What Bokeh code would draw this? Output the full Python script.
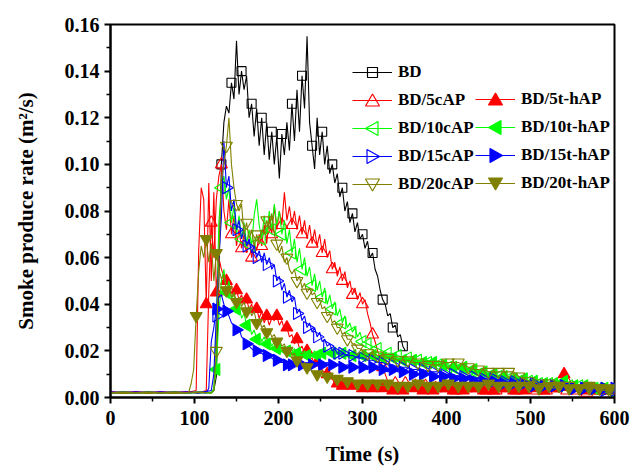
import math
from bokeh.plotting import figure
from bokeh.models import (Range1d, Legend, LegendItem, FixedTicker, NumeralTickFormatter,
                          PolyAnnotation)
from bokeh.embed import file_html
from bokeh.resources import INLINE

# ---------------- data ----------------
# each series: baseline values (every 15 s from 0), start time of the active part,
# active values (every 3 s), tail values (every 6 s after the active part)
labels = ["BD", "BD/5cAP", "BD/5t-hAP", "BD/10cAP", "BD/10t-hAP",
          "BD/15cAP", "BD/15t-hAP", "BD/20cAP", "BD/20t-hAP"]

bd_base = [0.0022, 0.0018, 0.0022, 0.0019, 0.0022, 0.0018, 0.0022, 0.0019, 0.0022]
bd_start = 123
bd_active = [0.003, 0.009, 0.05, 0.1, 0.118, 0.125, 0.122, 0.135, 0.128, 0.153,
             0.13, 0.14, 0.132, 0.138, 0.12, 0.126, 0.112, 0.124, 0.108, 0.12,
             0.104, 0.118, 0.102, 0.114, 0.1, 0.112, 0.094, 0.113, 0.104, 0.118,
             0.106, 0.126, 0.11, 0.132, 0.114, 0.138, 0.124, 0.155, 0.118, 0.108,
             0.098, 0.12, 0.104, 0.114, 0.1, 0.108, 0.096, 0.1, 0.092, 0.096,
             0.086, 0.09, 0.08, 0.084, 0.075, 0.079, 0.071, 0.075, 0.068, 0.07,
             0.064, 0.067, 0.06, 0.062, 0.055, 0.052, 0.046, 0.042, 0.04, 0.035,
             0.036, 0.03, 0.031, 0.026, 0.027, 0.022, 0.02]
bd_tail = []

c5_base = [0.0025, 0.002, 0.0025, 0.002, 0.0025, 0.002, 0.0025, 0.002]
c5_start = 114
c5_active = [0.003, 0.045, 0.075, 0.06, 0.085, 0.095, 0.1, 0.08, 0.072, 0.085,
             0.07, 0.078, 0.065, 0.072, 0.064, 0.07, 0.062, 0.068, 0.06, 0.066,
             0.063, 0.07, 0.065, 0.074, 0.066, 0.078, 0.07, 0.082, 0.072, 0.08,
             0.074, 0.088, 0.076, 0.082, 0.074, 0.08, 0.072, 0.078, 0.07, 0.076,
             0.068, 0.074, 0.066, 0.072, 0.065, 0.07, 0.062, 0.068, 0.06, 0.063,
             0.055, 0.058, 0.052, 0.056, 0.05, 0.054, 0.047, 0.05, 0.044, 0.047,
             0.042, 0.045, 0.04, 0.042, 0.036, 0.032, 0.027, 0.024, 0.02, 0.017,
             0.013, 0.01, 0.007, 0.006]
c5_tail = [0.006, 0.005, 0.006, 0.005, 0.005, 0.004, 0.005, 0.004, 0.004, 0.005,
           0.004, 0.004, 0.003, 0.004, 0.004, 0.003, 0.004, 0.003, 0.003, 0.004,
           0.003, 0.003, 0.004, 0.003, 0.003, 0.003, 0.004, 0.003, 0.003, 0.003,
           0.003, 0.003, 0.004, 0.003, 0.003, 0.003, 0.003, 0.003, 0.002, 0.003,
           0.003, 0.002, 0.003, 0.002, 0.003]

t5_base = [0.002, 0.0025, 0.002, 0.0025, 0.002, 0.0025, 0.002]
t5_start = 102
t5_active = [0.003, 0.063, 0.09, 0.085, 0.04, 0.092, 0.05, 0.088, 0.045, 0.06,
             0.055, 0.052, 0.05, 0.047, 0.048, 0.043, 0.046, 0.042, 0.044, 0.04,
             0.042, 0.038, 0.04, 0.036, 0.038, 0.034, 0.037, 0.032, 0.035, 0.031,
             0.034, 0.033, 0.035, 0.031, 0.033, 0.029, 0.03, 0.026, 0.027, 0.023,
             0.025, 0.021, 0.022, 0.019, 0.02, 0.016, 0.017, 0.014, 0.015, 0.012,
             0.012, 0.01, 0.01, 0.008, 0.008, 0.006, 0.006]
t5_tail = [0.005, 0.004, 0.005, 0.004, 0.004, 0.003, 0.004, 0.003, 0.004, 0.003,
           0.003, 0.004, 0.003, 0.003, 0.004, 0.003, 0.003, 0.004, 0.003, 0.003,
           0.004, 0.003, 0.003, 0.004, 0.003, 0.003, 0.004, 0.003, 0.003, 0.004,
           0.003, 0.003, 0.004, 0.003, 0.003, 0.004, 0.003, 0.003, 0.004, 0.003,
           0.003, 0.003, 0.004, 0.006, 0.01, 0.008, 0.004, 0.003, 0.003, 0.003,
           0.003, 0.002, 0.003, 0.002, 0.003]

c10_base = [0.0018, 0.0022, 0.0018, 0.0022, 0.0018, 0.0022, 0.0018, 0.0022, 0.0018]
c10_start = 123
c10_active = [0.003, 0.03, 0.075, 0.09, 0.095, 0.085, 0.09, 0.075, 0.082, 0.07,
              0.078, 0.068, 0.075, 0.066, 0.072, 0.065, 0.078, 0.085, 0.074, 0.068,
              0.078, 0.07, 0.08, 0.072, 0.083, 0.074, 0.08, 0.07, 0.076, 0.066,
              0.072, 0.062, 0.068, 0.058, 0.064, 0.055, 0.06, 0.052, 0.056, 0.048,
              0.053, 0.046, 0.05, 0.043, 0.047, 0.04, 0.044, 0.038, 0.041, 0.035,
              0.038, 0.032, 0.035, 0.03, 0.032, 0.028, 0.03, 0.026, 0.028, 0.024]
c10_tail = [0.023, 0.022, 0.021, 0.02, 0.019, 0.019, 0.018, 0.017, 0.017, 0.016,
            0.016, 0.015, 0.015, 0.014, 0.014, 0.013, 0.013, 0.012, 0.012, 0.011,
            0.011, 0.011, 0.01, 0.01, 0.009, 0.009, 0.009, 0.008, 0.008, 0.008,
            0.007, 0.007, 0.007, 0.006, 0.006, 0.006, 0.006, 0.005, 0.005, 0.006,
            0.005, 0.005, 0.005, 0.004, 0.004, 0.004, 0.004, 0.004, 0.003, 0.004]

t10_base = [0.002, 0.0024, 0.002, 0.0024, 0.002, 0.0024, 0.002, 0.0024, 0.002]
t10_start = 123
t10_active = [0.004, 0.012, 0.035, 0.05, 0.055, 0.045, 0.05, 0.042, 0.045, 0.038,
              0.04, 0.034, 0.036, 0.031, 0.033, 0.027, 0.029, 0.025, 0.027, 0.024,
              0.026, 0.023, 0.025, 0.022, 0.024, 0.021, 0.023, 0.021, 0.022, 0.02,
              0.022, 0.02, 0.021, 0.019, 0.021, 0.019, 0.02, 0.018, 0.02, 0.018,
              0.02, 0.018]
t10_tail = [0.019, 0.02, 0.019, 0.02, 0.019, 0.02, 0.018, 0.019, 0.018, 0.019,
            0.018, 0.018, 0.017, 0.018, 0.017, 0.017, 0.016, 0.017, 0.016, 0.016,
            0.015, 0.016, 0.015, 0.015, 0.014, 0.014, 0.013, 0.014, 0.013, 0.012,
            0.012, 0.011, 0.011, 0.01, 0.01, 0.009, 0.009, 0.009, 0.008, 0.008,
            0.008, 0.007, 0.007, 0.007, 0.006, 0.006, 0.006, 0.006, 0.007, 0.006,
            0.005, 0.005, 0.005, 0.005, 0.004, 0.004, 0.004, 0.004, 0.004]

c15_base = [0.0024, 0.002, 0.0024, 0.002, 0.0024, 0.002, 0.0024, 0.002]
c15_start = 120
c15_active = [0.003, 0.01, 0.035, 0.06, 0.077, 0.11, 0.09, 0.095, 0.08, 0.085,
              0.072, 0.076, 0.068, 0.072, 0.065, 0.068, 0.062, 0.065, 0.06, 0.063,
              0.058, 0.062, 0.057, 0.06, 0.055, 0.057, 0.05, 0.052, 0.046, 0.049,
              0.043, 0.046, 0.041, 0.043, 0.036, 0.038, 0.033, 0.035, 0.03, 0.032,
              0.028, 0.03, 0.026, 0.028, 0.024, 0.025, 0.022, 0.023, 0.02, 0.021,
              0.019]
c15_tail = [0.019, 0.018, 0.018, 0.017, 0.017, 0.016, 0.016, 0.015, 0.015, 0.014,
            0.014, 0.013, 0.013, 0.013, 0.012, 0.012, 0.012, 0.011, 0.011, 0.011,
            0.01, 0.01, 0.01, 0.009, 0.009, 0.009, 0.009, 0.008, 0.008, 0.008,
            0.008, 0.007, 0.007, 0.007, 0.007, 0.006, 0.006, 0.006, 0.006, 0.006,
            0.005, 0.005, 0.005, 0.005, 0.005, 0.005, 0.004, 0.004, 0.004, 0.004,
            0.004, 0.004, 0.003, 0.004, 0.003]

t15_base = [0.002, 0.0023, 0.002, 0.0023, 0.002, 0.0023, 0.002, 0.0023]
t15_start = 114
t15_active = [0.002, 0.004, 0.024, 0.03, 0.038, 0.043, 0.044, 0.04, 0.037, 0.035,
              0.032, 0.031, 0.029, 0.03, 0.026, 0.025, 0.023, 0.022, 0.021, 0.02,
              0.02, 0.019, 0.019, 0.018, 0.018, 0.017, 0.017, 0.016, 0.016, 0.015,
              0.015, 0.015, 0.014]
t15_tail = [0.014, 0.015, 0.014, 0.015, 0.014, 0.015, 0.014, 0.015, 0.014, 0.014,
            0.013, 0.014, 0.013, 0.013, 0.013, 0.012, 0.013, 0.012, 0.012, 0.011,
            0.012, 0.011, 0.011, 0.011, 0.01, 0.01, 0.01, 0.01, 0.009, 0.009,
            0.009, 0.009, 0.008, 0.008, 0.008, 0.008, 0.007, 0.007, 0.007, 0.007,
            0.007, 0.006, 0.006, 0.006, 0.006, 0.006, 0.006, 0.005, 0.005, 0.005,
            0.005, 0.005, 0.005, 0.005, 0.005, 0.004, 0.004, 0.004, 0.004, 0.004,
            0.004, 0.004, 0.004, 0.003, 0.004]

c20_base = [0.0019, 0.0023, 0.0019, 0.0023, 0.0019, 0.0023, 0.0019, 0.0023, 0.0019]
c20_start = 123
c20_active = [0.003, 0.02, 0.06, 0.093, 0.1, 0.108, 0.12, 0.1, 0.09, 0.083,
              0.08, 0.083, 0.07, 0.075, 0.068, 0.072, 0.065, 0.07, 0.066, 0.072,
              0.07, 0.076, 0.072, 0.079, 0.07, 0.066, 0.062, 0.065, 0.058, 0.06,
              0.055, 0.053, 0.055, 0.05, 0.052, 0.047, 0.049, 0.045, 0.047, 0.044,
              0.045, 0.041, 0.042, 0.038, 0.039, 0.035, 0.036, 0.032, 0.033, 0.03,
              0.03, 0.027, 0.028, 0.025, 0.025, 0.023, 0.023, 0.021, 0.021, 0.02]
c20_tail = [0.019, 0.019, 0.018, 0.018, 0.017, 0.017, 0.016, 0.016, 0.016, 0.015,
            0.015, 0.015, 0.014, 0.014, 0.014, 0.015, 0.015, 0.015, 0.015, 0.014,
            0.013, 0.012, 0.012, 0.012, 0.011, 0.011, 0.011, 0.011, 0.011, 0.011,
            0.009, 0.008, 0.007, 0.007, 0.006, 0.006, 0.006, 0.005, 0.005, 0.005,
            0.005, 0.005, 0.004, 0.004, 0.004, 0.004, 0.004, 0.003, 0.003, 0.003]

t20_base = [0.0021, 0.0017, 0.0021, 0.0017, 0.0021, 0.0017, 0.0021]
t20_start = 93
t20_active = [0.002, 0.006, 0.012, 0.035, 0.054, 0.065, 0.06, 0.068, 0.058, 0.066,
              0.05, 0.062, 0.055, 0.051, 0.052, 0.046, 0.048, 0.043, 0.045, 0.041,
              0.043, 0.039, 0.041, 0.037, 0.039, 0.035, 0.037, 0.032, 0.034, 0.03,
              0.031, 0.028, 0.029, 0.026, 0.027, 0.024, 0.025, 0.022, 0.023, 0.02,
              0.021, 0.018, 0.019, 0.016, 0.017, 0.014, 0.015, 0.013, 0.013, 0.011]
t20_tail = [0.01, 0.009, 0.009, 0.008, 0.008, 0.007, 0.007, 0.007, 0.006, 0.006,
            0.006, 0.006, 0.006, 0.005, 0.006, 0.005, 0.005, 0.006, 0.005, 0.005,
            0.006, 0.005, 0.005, 0.006, 0.005, 0.005, 0.006, 0.005, 0.005, 0.006,
            0.005, 0.005, 0.005, 0.005, 0.006, 0.005, 0.005, 0.005, 0.005, 0.005,
            0.005, 0.005, 0.005, 0.005, 0.004, 0.005, 0.005, 0.004, 0.005, 0.005,
            0.004, 0.005, 0.004, 0.004, 0.005, 0.004, 0.004, 0.004, 0.004, 0.004]

x_ticks = [0, 100, 200, 300, 400, 500, 600]
x_minor = [50, 150, 250, 350, 450, 550]
y_ticks = [0.0, 0.02, 0.04, 0.06, 0.08, 0.10, 0.12, 0.14, 0.16]
y_minor = [0.01, 0.03, 0.05, 0.07, 0.09, 0.11, 0.13, 0.15]

# ---------------- styles ----------------
colors = ["#000000", "#FF0000", "#FF0000", "#00FF00", "#00FF00",
          "#0000FF", "#0000FF", "#808000", "#808000"]
# symbol kind: sq = square, up, down, left, right
kinds = ["sq", "up", "up", "left", "left", "right", "right", "down", "down"]
marker_of = {"sq": "square", "up": "triangle", "down": "inverted_triangle",
             "left": "triangle", "right": "triangle"}
angle_of = {"sq": 0, "up": 0, "down": 0, "left": math.pi / 2, "right": -math.pi / 2}
filled = [False, False, True, False, True, False, True, False, True]
msizes = [9, 12, 12, 12, 12, 12, 12, 12, 12]
moffs = [1, 2, 0, 1, 3, 2, 0, 3, 1]

series = [
    (bd_base, bd_start, bd_active, bd_tail),
    (c5_base, c5_start, c5_active, c5_tail),
    (t5_base, t5_start, t5_active, t5_tail),
    (c10_base, c10_start, c10_active, c10_tail),
    (t10_base, t10_start, t10_active, t10_tail),
    (c15_base, c15_start, c15_active, c15_tail),
    (t15_base, t15_start, t15_active, t15_tail),
    (c20_base, c20_start, c20_active, c20_tail),
    (t20_base, t20_start, t20_active, t20_tail),
]

FONT = "Liberation Serif"

p = figure(width=630, height=468, output_backend="svg", toolbar_location=None,
           x_range=Range1d(0, 600), y_range=Range1d(0, 0.16),
           min_border_left=110, min_border_right=16, min_border_top=24,
           min_border_bottom=70)
p.background_fill_color = "white"
p.border_fill_color = "white"
p.grid.visible = False
p.outline_line_color = "black"
p.outline_line_width = 2

renderers = []
for k, (base, start, active, tail) in enumerate(series):
    tb = [15 * i for i in range(len(base))]
    ta = [start + 3 * i for i in range(len(active))]
    t0 = ta[-1] + 6
    tt = [t0 + 6 * i for i in range(len(tail))]
    xs = tb + ta + tt
    ys = list(base) + list(active) + list(tail)
    mx = [ta[i] for i in range(len(ta)) if (i + moffs[k]) % 4 == 0 and i > 0]
    my = [active[i] for i in range(len(ta)) if (i + moffs[k]) % 4 == 0 and i > 0]
    mx += [tt[j] for j in range(len(tt)) if j % 2 == 0]
    my += [tail[j] for j in range(len(tt)) if j % 2 == 0]
    lr = p.line(xs, ys, line_color=colors[k], line_width=1.1)
    sr = p.scatter(mx, my, marker=marker_of[kinds[k]], size=msizes[k],
                   angle=angle_of[kinds[k]],
                   line_color=colors[k], line_width=1.1,
                   fill_color=colors[k] if filled[k] else None)
    renderers.append((lr, sr))

# axes
for ax in (p.xaxis[0], p.yaxis[0]):
    ax.axis_line_width = 2
    ax.major_tick_line_width = 2
    ax.minor_tick_line_width = 1.5
    ax.major_tick_in = 0
    ax.major_tick_out = 6
    ax.minor_tick_in = 0
    ax.minor_tick_out = 4
    ax.major_label_text_font = FONT
    ax.major_label_text_font_style = "bold"
    ax.major_label_text_font_size = "20px"
    ax.major_label_text_color = "black"
    ax.axis_label_text_font = FONT
    ax.axis_label_text_font_style = "bold"
    ax.axis_label_text_font_size = "21px"
    ax.axis_label_text_color = "black"

p.xaxis.ticker = FixedTicker(ticks=x_ticks, minor_ticks=x_minor)
p.yaxis.ticker = FixedTicker(ticks=y_ticks, minor_ticks=y_minor)
p.yaxis.formatter = NumeralTickFormatter(format="0.00")
p.xaxis.formatter = NumeralTickFormatter(format="0")
p.xaxis.axis_label = "Time (s)"
p.yaxis.axis_label = "Smoke produce rate (m\u00b2/s)"
p.xaxis.major_label_standoff = 7
p.yaxis.major_label_standoff = 5
p.xaxis.axis_label_standoff = 14
p.yaxis.axis_label_standoff = 24

# legends: two columns (screen layout, pixels from the frame's bottom-left)
GLYPH_W = 40
ROW_H = 20
ROW_GAP = 8
left_loc = (242, 203)
right_loc = (365, 204)


def symbol(kind, cx, cy):
    if kind == "sq":
        s = 5
        return [cx - s, cx + s, cx + s, cx - s], [cy - s, cy - s, cy + s, cy + s]
    if kind == "up":
        return [cx, cx + 7, cx - 7], [cy + 6.5, cy - 5.5, cy - 5.5]
    if kind == "down":
        return [cx, cx + 7, cx - 7], [cy - 6.5, cy + 5.5, cy + 5.5]
    if kind == "left":
        return [cx - 7, cx + 5.5, cx + 5.5], [cy, cy + 7, cy - 7]
    return [cx + 7, cx - 5.5, cx - 5.5], [cy, cy + 7, cy - 7]


def make_legend(idx, loc):
    items = [LegendItem(label=labels[i], renderers=[renderers[i][0]]) for i in idx]
    leg = Legend(items=items, location=loc, orientation="vertical",
                 glyph_width=GLYPH_W, glyph_height=ROW_H, label_height=ROW_H,
                 label_standoff=6, spacing=ROW_GAP, padding=0, margin=0,
                 border_line_alpha=0, background_fill_alpha=0,
                 label_text_font=FONT, label_text_font_style="bold",
                 label_text_font_size="17px", label_text_color="black")
    p.add_layout(leg)
    # legend symbols drawn on top of the legend lines
    n = len(idx)
    top = loc[1] + n * ROW_H + (n - 1) * ROW_GAP
    for r, i in enumerate(idx):
        cx = loc[0] + GLYPH_W / 2
        cy = top - ROW_H / 2 - r * (ROW_H + ROW_GAP)
        xs_s, ys_s = symbol(kinds[i], cx, cy)
        p.add_layout(PolyAnnotation(xs=xs_s, ys=ys_s, xs_units="screen",
                                    ys_units="screen", line_color=colors[i],
                                    line_width=1.2, line_alpha=1.0,
                                    fill_color=colors[i] if filled[i] else "white",
                                    fill_alpha=1.0))


make_legend([0, 1, 3, 5, 7], left_loc)
make_legend([2, 4, 6, 8], right_loc)

open("out.html", "w").write(file_html(p, INLINE))
